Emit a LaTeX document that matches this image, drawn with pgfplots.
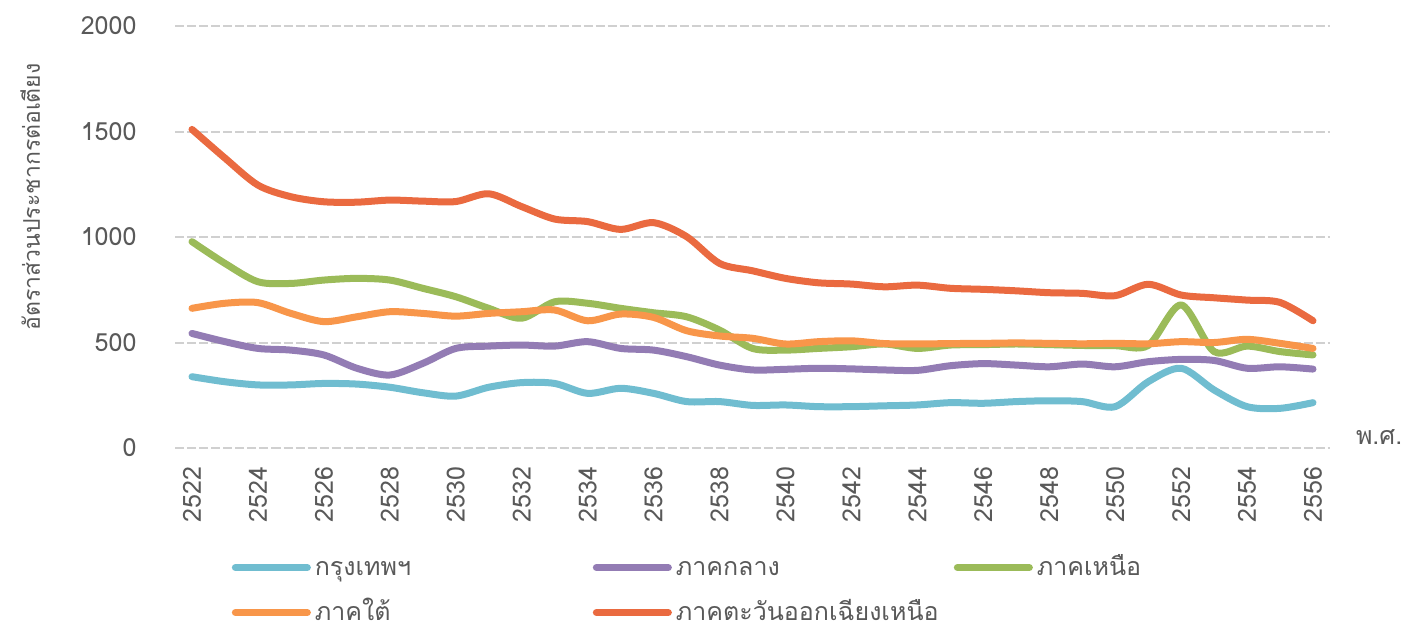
\documentclass[border=0pt]{standalone}
\usepackage{pgfplots}
\pgfplotsset{compat=1.18}
\usepackage{fontspec}
\setmainfont[Script=Thai]{Loma}
\definecolor{cBkk}{RGB}{112,189,208}
\definecolor{cCen}{RGB}{147,124,180}
\definecolor{cNor}{RGB}{155,187,89}
\definecolor{cSou}{RGB}{248,150,74}
\definecolor{cNE}{RGB}{234,106,64}
\definecolor{cTxt}{RGB}{89,89,89}
\definecolor{cGrid}{RGB}{208,208,208}
\pgfplotstableread{
year bkk cen nor sou ne
2522 338 543 978 662 1510
2523 314 504 875 686 1374
2524 299 472 788 689 1246
2525 299 464 780 638 1191
2526 306 441 796 599 1167
2527 303 378 804 622 1165
2528 288 346 796 646 1175
2529 262 401 757 638 1170
2530 246 472 717 625 1168
2531 288 483 662 638 1205
2532 310 488 615 646 1144
2533 306 483 693 654 1085
2534 259 504 686 603 1073
2535 283 472 662 635 1036
2536 259 464 641 619 1068
2537 220 433 622 556 1002
2538 220 393 559 531 875
2539 202 370 472 520 840
2540 204 373 464 493 804
2541 196 378 472 504 783
2542 196 375 480 508 777
2543 200 370 493 495 764
2544 204 368 472 493 772
2545 215 390 488 495 757
2546 212 400 490 496 752
2547 220 393 493 498 745
2548 224 385 490 496 736
2549 220 398 486 494 733
2550 196 385 485 496 722
2551 314 409 486 494 776
2552 378 420 678 504 725
2553 275 415 457 500 712
2554 196 378 483 515 701
2555 188 385 457 496 690
2556 215 374 441 472 603
}\datatable
\begin{document}
\begin{tikzpicture}
\begin{axis}[
  scale only axis, width=577pt, height=211pt,
  xmin=2521.5, xmax=2556.5, ymin=0, ymax=2000,
  xtick={2522,2524,...,2556}, ytick={0,500,...,2000},
  axis line style={draw=none}, major tick length=0pt,
  ymajorgrids,
  major grid style={color=cGrid, line width=1pt, dash pattern=on 4.5pt off 1.5pt},
  /pgf/number format/assume math mode=true,
  /pgf/number format/1000 sep={},
  tick label style={font=\fontsize{12.5}{15}\selectfont, text=cTxt},
  xticklabel style={rotate=90, anchor=east, xshift=-6pt},
  yticklabel style={xshift=-16pt},
  ylabel={อัตราส่วนประชากรต่อเตียง},
  ylabel style={at={(axis description cs:-0.126,0.595)}, anchor=center, rotate=0, font=\fontsize{11.5}{14}\selectfont, text=cTxt},
  legend columns=3,
  legend style={draw=none, fill=none, at={(axis description cs:0.0485,-0.248)}, anchor=north west, inner sep=0pt,
     font=\fontsize{12.5}{15}\selectfont, text=cTxt,
     nodes={text width=136pt, align=left, inner sep=2pt, text height=9pt, text depth=1.5pt},
     /tikz/every even column/.style={column sep=1pt}, row sep=8pt},
  legend image code/.code={\draw[#1, line width=3.5pt, line cap=round] (0pt,0pt) -- (36pt,0pt);},
  every axis plot/.append style={line width=3.5pt, smooth, tension=0.5, line cap=round, line join=round, no markers},
  clip=false,
]
\addplot[cBkk] table[x=year, y=bkk] {\datatable};
\addlegendentry{กรุงเทพฯ}
\addplot[cCen] table[x=year, y=cen] {\datatable};
\addlegendentry{ภาคกลาง}
\addplot[cNor] table[x=year, y=nor] {\datatable};
\addlegendentry{ภาคเหนือ}
\addplot[cSou] table[x=year, y=sou] {\datatable};
\addlegendentry{ภาคใต้}
\addplot[cNE] table[x=year, y=ne] {\datatable};
\addlegendentry{ภาคตะวันออกเฉียงเหนือ}
\node[text=cTxt, font=\fontsize{12.5}{15}\selectfont] at (axis description cs:1.043,0.026) {พ.ศ.};
\end{axis}
\pgfresetboundingbox
\path (-87.75pt,-90.5pt) rectangle (618.25pt,224pt);
\end{tikzpicture}
\end{document}
